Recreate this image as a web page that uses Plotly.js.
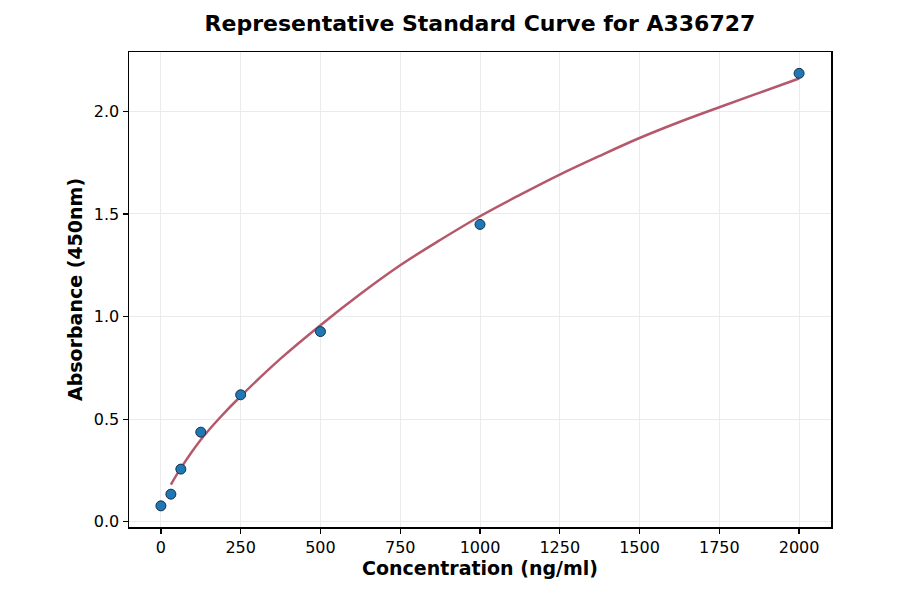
<!DOCTYPE html>
<html>
<head>
<meta charset="utf-8">
<script src="https://cdn.plot.ly/plotly-3.0.1.min.js"></script>
<style>html,body{margin:0;padding:0;background:#fff;}#chart{width:900px;height:594px;}</style>
</head>
<body>
<div id="chart"></div>
<script>
// Measured standards
var concentrations = [0, 31.25, 62.5, 125, 250, 500, 1000, 2000];
var absorbances = [0.078, 0.135, 0.257, 0.437, 0.619, 0.927, 1.449, 2.185];

// Fitted curve
var curveX = [31.25, 62.5, 125, 187.5, 250, 375, 500, 625, 750, 875, 1000, 1125, 1250, 1375, 1500, 1625, 1750, 1875, 2000];
var curveY = [0.182, 0.262, 0.400, 0.512, 0.612, 0.795, 0.958, 1.110, 1.250, 1.373, 1.489, 1.593, 1.692, 1.783, 1.870, 1.948, 2.020, 2.090, 2.160];

var xTicks = [0, 250, 500, 750, 1000, 1250, 1500, 1750, 2000];
var yTicks = [0.0, 0.5, 1.0, 1.5, 2.0];
var yTickText = ["0.0", "0.5", "1.0", "1.5", "2.0"];

var font = "DejaVu Sans, sans-serif";

var traces = [
  {
    x: curveX, y: curveY, type: "scatter", mode: "lines",
    line: {color: "#b5586b", width: 2.5, shape: "spline"},
    hoverinfo: "skip", showlegend: false
  },
  {
    x: concentrations, y: absorbances, type: "scatter", mode: "markers",
    marker: {color: "#1f77b4", size: 10, line: {color: "#17304a", width: 1}},
    showlegend: false
  }
];

var layout = {
  width: 900, height: 594,
  margin: {l: 129, r: 69, t: 52, b: 67},
  paper_bgcolor: "#ffffff", plot_bgcolor: "#ffffff",
  title: {
    text: "<b>Representative Standard Curve for A336727</b>",
    font: {family: font, size: 22, color: "#000"},
    x: 0.5333, xref: "container", xanchor: "center",
    y: 1 - 23/594, yref: "container", yanchor: "middle"
  },
  xaxis: {
    range: [-100, 2100],
    tickvals: xTicks, ticktext: xTicks.map(String),
    tickfont: {family: font, size: 16, color: "#000"},
    ticks: "outside", ticklen: 5, tickwidth: 1.2, tickcolor: "#000",
    showline: true, linecolor: "#000", linewidth: 1.5, mirror: true,
    showgrid: true, gridcolor: "#ebebeb", gridwidth: 1,
    zeroline: false,
    title: {text: "<b>Concentration (ng/ml)</b>", font: {family: font, size: 19, color: "#000"}, standoff: 5}
  },
  yaxis: {
    range: [-0.025, 2.289],
    tickvals: yTicks, ticktext: yTickText,
    tickfont: {family: font, size: 16, color: "#000"},
    ticks: "outside", ticklen: 5, tickwidth: 1.2, tickcolor: "#000",
    showline: true, linecolor: "#000", linewidth: 1.5, mirror: true,
    showgrid: true, gridcolor: "#ebebeb", gridwidth: 1,
    zeroline: false,
    title: {text: "<b>Absorbance (450nm)</b>", font: {family: font, size: 19, color: "#000"}, standoff: 6}
  }
};

Plotly.newPlot("chart", traces, layout, {staticPlot: true, displayModeBar: false});
</script>
</body>
</html>
